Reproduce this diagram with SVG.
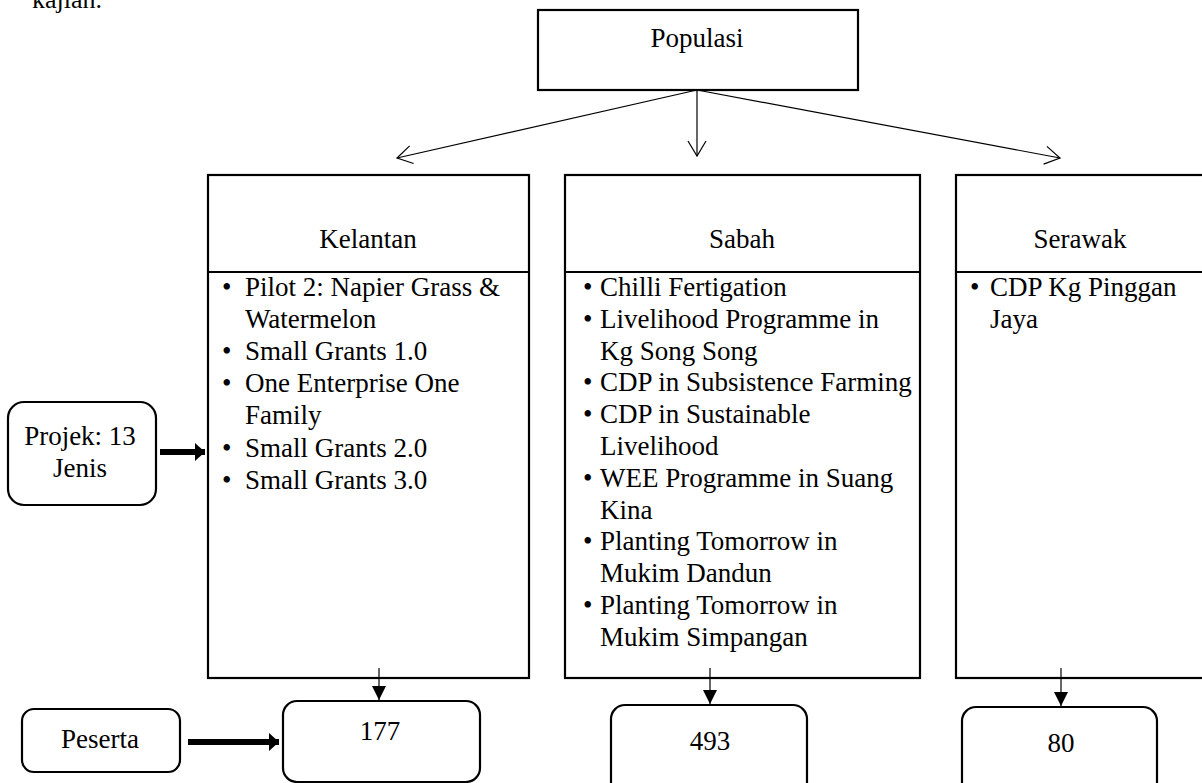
<svg xmlns="http://www.w3.org/2000/svg" width="1202" height="783" viewBox="0 0 1202 783">
<style>
text{font-family:"Liberation Serif","Times New Roman",serif;font-size:27px;fill:#000}
.c{text-anchor:middle}
.box{fill:#fff;stroke:#000;stroke-width:2.2}
.thin{fill:none;stroke:#000;stroke-width:1.2}
.thick{fill:none;stroke:#000;stroke-width:6}
</style>
<defs>
<marker id="open" markerUnits="userSpaceOnUse" markerWidth="20" markerHeight="22" refX="16" refY="10" orient="auto"><path d="M1,1 L16,10 L1,19" fill="none" stroke="#000" stroke-width="1.2"/></marker>
<marker id="fill" markerUnits="userSpaceOnUse" markerWidth="16" markerHeight="16" refX="14" refY="7" orient="auto"><path d="M0,0 L14,7 L0,14 Z" fill="#000"/></marker>
<marker id="fat" markerUnits="userSpaceOnUse" markerWidth="12" markerHeight="20" refX="10" refY="9" orient="auto"><path d="M0,0 L10,9 L0,18 Z" fill="#000"/></marker>
</defs>
<text x="32" y="8" style="font-size:26px">kajian.</text>
<g id="populasi"><rect class="box" x="538" y="10" width="320" height="80"/><text class="c" x="697" y="47">Populasi</text></g>
<g id="kelantan"><rect class="box" x="208" y="175" width="321" height="503"/><line class="box" x1="208" y1="272" x2="529" y2="272"/><text class="c" x="368" y="248">Kelantan</text>
<text x="222" y="296">•</text><text x="245" y="296">Pilot 2: Napier Grass &amp;</text>
<text x="245" y="328">Watermelon</text>
<text x="222" y="360">•</text><text x="245" y="360">Small Grants 1.0</text>
<text x="222" y="392">•</text><text x="245" y="392">One Enterprise One</text>
<text x="245" y="424">Family</text>
<text x="222" y="457">•</text><text x="245" y="457">Small Grants 2.0</text>
<text x="222" y="489">•</text><text x="245" y="489">Small Grants 3.0</text></g>
<g id="sabah"><rect class="box" x="565" y="175" width="355" height="503"/><line class="box" x1="565" y1="272" x2="920" y2="272"/><text class="c" x="742" y="248">Sabah</text>
<text x="583" y="296">•</text><text x="600" y="296">Chilli Fertigation</text>
<text x="583" y="328">•</text><text x="600" y="328">Livelihood Programme in</text>
<text x="600" y="360">Kg Song Song</text>
<text x="583" y="391">•</text><text x="600" y="391">CDP in Subsistence Farming</text>
<text x="583" y="423">•</text><text x="600" y="423">CDP in Sustainable</text>
<text x="600" y="455">Livelihood</text>
<text x="583" y="487">•</text><text x="600" y="487">WEE Programme in Suang</text>
<text x="600" y="519">Kina</text>
<text x="583" y="550">•</text><text x="600" y="550">Planting Tomorrow in</text>
<text x="600" y="582">Mukim Dandun</text>
<text x="583" y="614">•</text><text x="600" y="614">Planting Tomorrow in</text>
<text x="600" y="646">Mukim Simpangan</text></g>
<g id="serawak"><rect class="box" x="956" y="175" width="260" height="503"/><line class="box" x1="956" y1="272" x2="1216" y2="272"/><text class="c" x="1080" y="248">Serawak</text>
<text x="970" y="296">•</text><text x="990" y="296">CDP Kg Pinggan</text>
<text x="990" y="328">Jaya</text></g>
<g id="projek"><rect class="box" x="8" y="402" width="148" height="103" rx="16"/><text class="c" x="80" y="445">Projek: 13</text><text class="c" x="80" y="477">Jenis</text></g>
<g id="peserta"><rect class="box" x="22" y="709" width="158" height="63" rx="12"/><text class="c" x="100" y="748">Peserta</text></g>
<g id="n177"><rect class="box" x="283" y="701" width="197" height="81" rx="14"/><text class="c" x="380" y="740">177</text></g>
<g id="n493"><rect class="box" x="611" y="705" width="196" height="95" rx="14"/><text class="c" x="710" y="750">493</text></g>
<g id="n80"><rect class="box" x="962" y="707" width="195" height="95" rx="14"/><text class="c" x="1061" y="752">80</text></g>
<g id="connectors">
<line class="thin" x1="697" y1="90" x2="397" y2="158" marker-end="url(#open)"/>
<line class="thin" x1="697" y1="90" x2="697" y2="156" marker-end="url(#open)"/>
<line class="thin" x1="697" y1="90" x2="1060" y2="158" marker-end="url(#open)"/>
<line class="thin" x1="379" y1="668" x2="379" y2="700" marker-end="url(#fill)"/>
<line class="thin" x1="710" y1="668" x2="710" y2="704" marker-end="url(#fill)"/>
<line class="thin" x1="1061" y1="668" x2="1061" y2="706" marker-end="url(#fill)"/>
<line class="thick" x1="160" y1="452" x2="205" y2="452" marker-end="url(#fat)"/>
<line class="thick" x1="188" y1="742" x2="279" y2="742" marker-end="url(#fat)"/>
</g>
</svg>
